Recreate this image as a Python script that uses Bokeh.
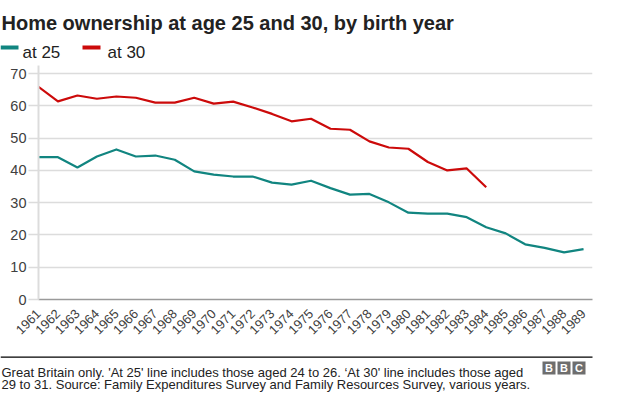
from bokeh.plotting import figure
from bokeh.models import FixedTicker, Range1d
from bokeh.layouts import column
from bokeh.core.properties import value
from bokeh.embed import file_html
from bokeh.resources import INLINE
import math

years = list(range(1961, 1990))
at25 = [44.1, 44.1, 40.9, 44.3, 46.5, 44.3, 44.6, 43.3, 39.7, 38.7, 38.1, 38.1,
        36.2, 35.6, 36.8, 34.5, 32.5, 32.7, 30.1, 26.9, 26.6, 26.6, 25.5, 22.4,
        20.5, 17.1, 16.0, 14.6, 15.6]
at30 = [65.9, 61.4, 63.2, 62.2, 62.9, 62.5, 61.0, 61.0, 62.5, 60.7, 61.3, 59.5,
        57.5, 55.2, 56.0, 52.9, 52.6, 49.0, 47.1, 46.7, 42.6, 40.0, 40.6, 34.8]
y_ticks = [0, 10, 20, 30, 40, 50, 60, 70]
series_names = ["at 25", "at 30"]
title_text = "Home ownership at age 25 and 30, by birth year"
footer_lines = [
    "Great Britain only. 'At 25' line includes those aged 24 to 26. \u2018At 30' line includes those aged",
    "29 to 31. Source: Family Expenditures Survey and Family Resources Survey, various years.",
]
logo_letters = ["B", "B", "C"]

TEAL = "#118580"
RED = "#cc0a0a"
FONT = "Liberation Sans"
W = 608
TOP_H, MAIN_H = 65, 287
BOT_H = 392 - TOP_H - MAIN_H


def blank(height, y0):
    f = figure(width=W, height=height, output_backend="svg", toolbar_location=None,
               x_range=Range1d(0, W), y_range=Range1d(y0 + height, y0),
               x_axis_location=None, y_axis_location=None, frame_align=False,
               min_border=0, min_border_left=0, min_border_right=0,
               min_border_top=0, min_border_bottom=0)
    f.outline_line_color = None
    f.grid.visible = False
    f.background_fill_color = "white"
    f.border_fill_color = "white"
    return f


def txt(f, x, y, text, size, color="#222222", bold=False, align="left", baseline="alphabetic"):
    f.text(x=[x], y=[y], text=[text], text_font=value(FONT), text_font_size=size,
           text_color=color, text_font_style="bold" if bold else "normal",
           text_align=align, text_baseline=baseline)


# ---------- header: title + legend ----------
top = blank(TOP_H, 0)
txt(top, 1, 22, title_text, "20px", bold=True)
top.quad(left=[0], right=[18], top=[45], bottom=[49], fill_color=TEAL, line_color=None)
txt(top, 22, 52, series_names[0], "17px")
top.quad(left=[82], right=[100], top=[45], bottom=[49], fill_color=RED, line_color=None)
txt(top, 107, 52, series_names[1], "17px")

# ---------- main chart ----------
FL, FR = 38, 592
FRAME_H = 234
p = figure(width=W, height=MAIN_H, output_backend="svg", toolbar_location=None,
           x_range=Range1d(1961, 1989.46), y_range=Range1d(0, 72.5), frame_align=False,
           min_border_left=FL, min_border_right=W - FR,
           min_border_top=0, min_border_bottom=MAIN_H - FRAME_H)
p.outline_line_color = None
p.background_fill_color = "white"
p.border_fill_color = "white"

p.xgrid.grid_line_color = None
p.ygrid.grid_line_color = "#dcdcdc"
p.ygrid.grid_line_width = 1.6

p.yaxis.ticker = FixedTicker(ticks=y_ticks)
p.yaxis.axis_line_color = "#dcdcdc"
p.yaxis.axis_line_width = 2
p.yaxis.major_tick_line_color = "#dcdcdc"
p.yaxis.major_tick_line_width = 1.6
p.yaxis.major_tick_out = 10
p.yaxis.major_tick_in = 0
p.yaxis.minor_tick_line_color = None
p.yaxis.major_label_standoff = 2
p.yaxis.major_label_text_font = FONT
p.yaxis.major_label_text_font_size = "14.5px"
p.yaxis.major_label_text_color = "#404040"

p.xaxis.ticker = FixedTicker(ticks=years)
p.xaxis.major_label_overrides = {y: str(y) for y in years}
p.xaxis.axis_line_color = "#9a9a9a"
p.xaxis.axis_line_width = 1.5
p.xaxis.major_tick_line_color = None
p.xaxis.major_tick_out = 0
p.xaxis.major_tick_in = 0
p.xaxis.minor_tick_line_color = None
p.xaxis.major_label_orientation = math.pi / 4
p.xaxis.major_label_standoff = 12
p.xaxis.major_label_text_font = FONT
p.xaxis.major_label_text_font_size = "13px"
p.xaxis.major_label_text_color = "#404040"

p.line(years, at25, line_color=TEAL, line_width=2.2, line_join="round")
p.line(years[:len(at30)], at30, line_color=RED, line_width=2.2, line_join="round")

# ---------- footer ----------
B0 = TOP_H + MAIN_H
bot = blank(BOT_H, B0)
bot.quad(left=[0], right=[592], top=[356.0], bottom=[357.2], fill_color="#000000", line_color=None)
txt(bot, 1, 371.5, footer_lines[0], "13px")
txt(bot, 1, 384.0, footer_lines[1], "13px")
lx = [542 + i * 15 for i in range(len(logo_letters))]
bot.quad(left=lx, right=[x + 13 for x in lx], top=[361.0] * 3, bottom=[374.0] * 3,
         fill_color="#6e6e6e", line_color=None)
bot.text(x=[x + 6.5 for x in lx], y=[367.8] * 3, text=logo_letters, text_font=value(FONT),
         text_font_size="11px", text_font_style="bold", text_color="white",
         text_align="center", text_baseline="middle")

layout = column(top, p, bot, spacing=0)
open("out.html", "w").write(file_html(layout, INLINE))
